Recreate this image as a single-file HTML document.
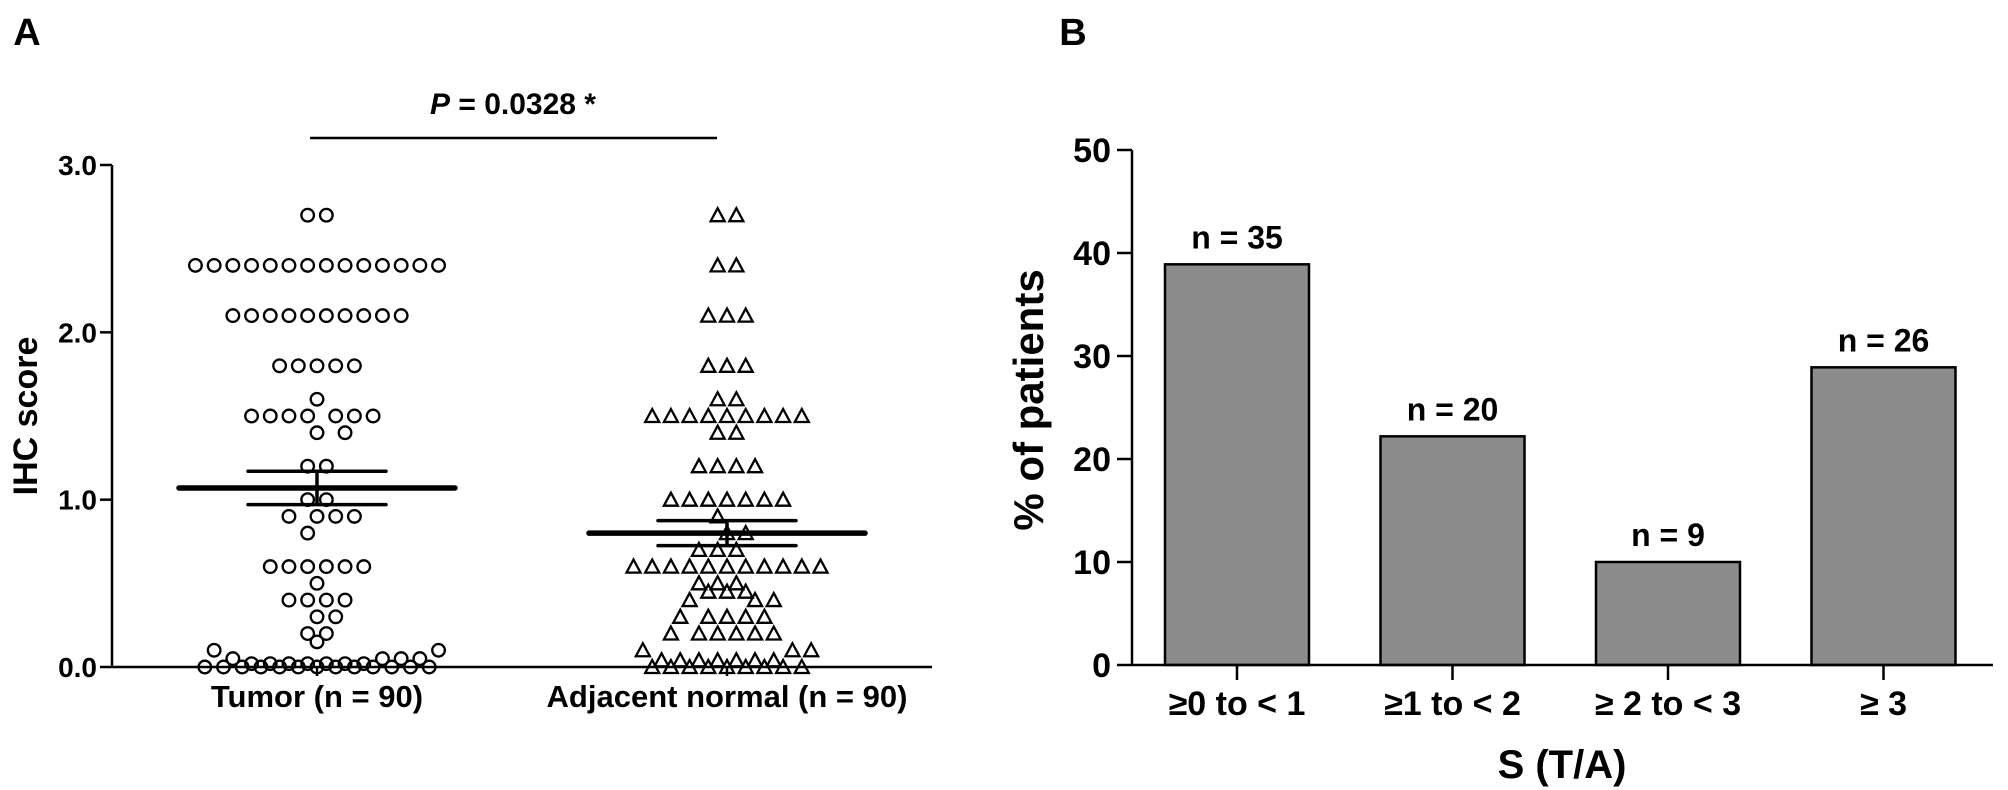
<!DOCTYPE html>
<html><head><meta charset="utf-8"><style>
html,body{margin:0;padding:0;background:#fff;}
svg{display:block;font-family:"Liberation Sans",Arial,sans-serif;font-weight:bold;}
</style></head><body>
<svg id="fig" width="2008" height="790" viewBox="0 0 2008 790" xmlns="http://www.w3.org/2000/svg">
<g id="panelA"></g>
<g id="panelB"></g>
</svg>
<script>
// ---------- Panel A data ----------
const groupNames = ["Tumor (n = 90)", "Adjacent normal (n = 90)"];
const tumorValues = [2.7,2.7,
 2.4,2.4,2.4,2.4,2.4,2.4,2.4,2.4,2.4,2.4,2.4,2.4,2.4,2.4,
 2.1,2.1,2.1,2.1,2.1,2.1,2.1,2.1,2.1,2.1,
 1.8,1.8,1.8,1.8,1.8, 1.6, 1.5,1.5,1.5,1.5,1.5,1.5,1.5, 1.4,1.4,
 1.2,1.2, 1.0,1.0, 0.9,0.9,0.9,0.9, 0.8, 0.6,0.6,0.6,0.6,0.6,0.6, 0.5,
 0.4,0.4,0.4,0.4, 0.3,0.3, 0.2,0.2, 0.15, 0.1,0.1,
 0.05,0.05,0.05,0.05, 0.02,0.02,0.02,0.02,0.02,0.02,0.02,
 0,0,0,0,0,0,0,0,0,0,0,0,0];
const normalValues = [2.7,2.7, 2.4,2.4, 2.1,2.1,2.1, 1.8,1.8,1.8, 1.6,1.6,
 1.5,1.5,1.5,1.5,1.5,1.5,1.5,1.5,1.5, 1.4,1.4, 1.2,1.2,1.2,1.2,
 1.0,1.0,1.0,1.0,1.0,1.0,1.0, 0.9, 0.8,0.8, 0.7,0.7,0.7,
 0.6,0.6,0.6,0.6,0.6,0.6,0.6,0.6,0.6,0.6,0.6, 0.5,0.5,0.5, 0.45,0.45,0.45,
 0.4,0.4,0.4, 0.3,0.3,0.3,0.3,0.3, 0.2,0.2,0.2,0.2,0.2,0.2, 0.1,0.1,0.1,
 0.04,0.04,0.04,0.04,0.04,0.04,0.04, 0,0,0,0,0,0,0,0,0];
const groupMeans = [1.07, 0.80];
const groupSEM = [0.10, 0.075];
const yTicksA = [0, 1, 2, 3];
const yTickLabelsA = ["0.0", "1.0", "2.0", "3.0"];
const pLabel = "0.0328 *";

// ---------- Panel B data ----------
const bCategories = ["\u22650 to < 1", "\u22651 to < 2", "\u2265 2 to < 3", "\u2265 3"];
const bValues = [38.9, 22.2, 10.0, 28.9];
const bCounts = ["n = 35", "n = 20", "n = 9", "n = 26"];
const yTicksB = [0, 10, 20, 30, 40, 50];

const NS = "http://www.w3.org/2000/svg";
function mk(parent, tag, attrs, text) {
  const e = document.createElementNS(NS, tag);
  for (const k in attrs) e.setAttribute(k, attrs[k]);
  if (text !== undefined) e.textContent = text;
  parent.appendChild(e);
  return e;
}

// ================= PANEL A =================
const A = document.getElementById("panelA");
const axA = {x0: 112, x1: 932, y0: 667, y3: 165};
const yA = v => axA.y0 - v * (axA.y0 - axA.y3) / 3;
const groupX = [317, 727];
const xA = i => groupX[i];

let t = mk(A, "text", {x: 27, y: 45, "font-size": 38, "text-anchor": "middle"}, "A");



let l = mk(A, "line", {x1: axA.x0, y1: axA.y3, x2: axA.x0, y2: axA.y0 + 1, stroke: "#000", "stroke-width": 2.5});


l = mk(A, "line", {x1: axA.x0, y1: axA.y0, x2: axA.x1, y2: axA.y0, stroke: "#000", "stroke-width": 2.5});



yTicksA.forEach((v, i) => {
  const tk = mk(A, "line", {x1: 100, y1: yA(v), x2: axA.x0, y2: yA(v), stroke: "#000", "stroke-width": 2.5});
  
  
  const lb = mk(A, "text", {x: 97, y: yA(v) + 10, "font-size": 28, "text-anchor": "end"}, yTickLabelsA[i]);
  
  
});
groupNames.forEach((g, i) => {
  const tk = mk(A, "line", {x1: xA(i), y1: axA.y0, x2: xA(i), y2: axA.y0 + 9, stroke: "#000", "stroke-width": 2.5});
  
  
  const lb = mk(A, "text", {x: xA(i), y: 707, "font-size": 31, "text-anchor": "middle"}, g);
  
  
});
t = mk(A, "text", {x: 0, y: 0, "font-size": 34, "text-anchor": "middle", transform: "translate(37,416) rotate(-90)"}, "IHC score");



// significance
l = mk(A, "line", {x1: 310, y1: 138, x2: 717, y2: 138, stroke: "#000", "stroke-width": 2.5});


t = mk(A, "text", {x: 513, y: 114, "font-size": 30, "text-anchor": "middle"});


mk(t, "tspan", {"font-style": "italic"}, "P");
mk(t, "tspan", {}, " = " + pLabel);

// beeswarm layout
const STEP = 18.7;
function collides(p, x, y) {
  const dx = Math.abs(p.x - x), dy = Math.abs(p.y - y);
  if (dy < 0.5) return dx < STEP * 0.97;
  if (dy < 10) return dx < STEP * 0.45;
  return Math.hypot(dx, dy) < STEP * 0.97;
}
function swarm(values, cx) {
  const placed = [];
  const groups = {};
  values.forEach(v => { (groups[v] = groups[v] || []).push(v); });
  const keys = Object.keys(groups).map(Number);
  const upper = keys.filter(v => v >= 0.12).sort((a, b) => b - a);
  const lower = keys.filter(v => v < 0.12).sort((a, b) => a - b);
  lower.concat(upper).forEach(v => {
    const n = groups[v].length;
    const y = yA(v);
    const ideals = [];
    for (let i = 0; i < n; i++) ideals.push((i - (n - 1) / 2) * STEP);
    ideals.sort((a, b) => Math.abs(a) - Math.abs(b));
    ideals.forEach(id => {
      const dir = id >= 0 ? 1 : -1;
      for (let k = 0; k < 80; k++) {
        const off = id + (k % 2 === 0 ? 1 : -1) * dir * Math.ceil(k / 2) * STEP / 2;
        const x = cx + off;
        if (!placed.some(p => collides(p, x, y))) { placed.push({x, y, v}); break; }
      }
    });
  });
  return placed;
}
swarm(tumorValues, xA(0)).forEach(p => {
  const c = mk(A, "circle", {cx: p.x, cy: p.y, r: 6.3, fill: "none", stroke: "#000", "stroke-width": 2.3});
  
  
});
swarm(normalValues, xA(1)).forEach(p => {
  const h = 12, w = 14;
  const pts = `${p.x},${p.y - h/2 - 1} ${p.x - w/2},${p.y + h/2} ${p.x + w/2},${p.y + h/2}`;
  const tr = mk(A, "polygon", {points: pts, fill: "none", stroke: "#000", "stroke-width": 2.3, "stroke-linejoin": "miter"});
  
  
});
// means + SEM
const meanHalf = [138, 138];
const semHalf = [69, 69];
groupMeans.forEach((m, i) => {
  const cx = xA(i);
  const ml = mk(A, "line", {x1: cx - meanHalf[i], y1: yA(m), x2: cx + meanHalf[i], y2: yA(m), stroke: "#000", "stroke-width": 5.5, "stroke-linecap": "round"});
  
  
  [m + groupSEM[i], m - groupSEM[i]].forEach(v => {
    const sl = mk(A, "line", {x1: cx - semHalf[i], y1: yA(v), x2: cx + semHalf[i], y2: yA(v), stroke: "#000", "stroke-width": 3.5, "stroke-linecap": "round"});
    
    
  });
  const vl = mk(A, "line", {x1: cx, y1: yA(m + groupSEM[i]), x2: cx, y2: yA(m - groupSEM[i]), stroke: "#000", "stroke-width": 3.5});
  
  
});

// ================= PANEL B =================
const B = document.getElementById("panelB");
const axB = {x0: 1132, x1: 1993, y0: 665, yTop: 150, vmax: 50};
const yB = v => axB.y0 - v * (axB.y0 - axB.yTop) / axB.vmax;
const barW = 144, firstCenter = 1237, spacing = 215.5;
const xB = i => firstCenter + i * spacing;

t = mk(B, "text", {x: 1073, y: 45, "font-size": 38, "text-anchor": "middle"}, "B");



bValues.forEach((v, i) => {
  const r = mk(B, "rect", {x: xB(i) - barW / 2, y: yB(v), width: barW, height: axB.y0 - yB(v), fill: "#8c8c8c", stroke: "#000", "stroke-width": 2.5});
  
  
  const c = mk(B, "text", {x: xB(i), y: yB(v) - 16, "font-size": 32, "text-anchor": "middle"}, bCounts[i]);
  
  
  const tk = mk(B, "line", {x1: xB(i), y1: axB.y0, x2: xB(i), y2: axB.y0 + 15, stroke: "#000", "stroke-width": 2.5});
  
  
  const lb = mk(B, "text", {x: xB(i), y: 715, "font-size": 34, "text-anchor": "middle"}, bCategories[i]);
  
  
});
l = mk(B, "line", {x1: axB.x0, y1: axB.yTop, x2: axB.x0, y2: axB.y0 + 1, stroke: "#000", "stroke-width": 2.5});


l = mk(B, "line", {x1: axB.x0, y1: axB.y0, x2: axB.x1, y2: axB.y0, stroke: "#000", "stroke-width": 2.5});


yTicksB.forEach(v => {
  const tk = mk(B, "line", {x1: 1117, y1: yB(v), x2: axB.x0, y2: yB(v), stroke: "#000", "stroke-width": 2.5});
  
  
  const lb = mk(B, "text", {x: 1111, y: yB(v) + 12, "font-size": 34, "text-anchor": "end"}, String(v));
  
  
});
t = mk(B, "text", {x: 0, y: 0, "font-size": 42, "text-anchor": "middle", transform: "translate(1043,400) rotate(-90)"}, "% of patients");


t = mk(B, "text", {x: 1562, y: 778, "font-size": 40, "text-anchor": "middle"}, "S (T/A)");


</script>
</body></html>
